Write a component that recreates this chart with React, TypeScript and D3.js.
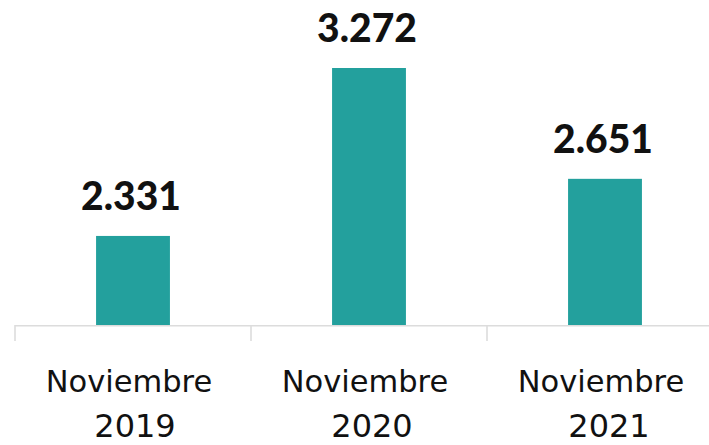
import React from "react";
import * as d3 from "d3";

const categories = ["Noviembre 2019", "Noviembre 2020", "Noviembre 2021"];
const months = ["Noviembre", "Noviembre", "Noviembre"];
const years = ["2019", "2020", "2021"];
const values = [2331, 3272, 2651];
const valueLabels = ["2.331", "3.272", "2.651"];

const W = 709;
const H = 445;

export default function App() {
  const x = d3.scaleBand<string>().domain(categories).range([15, 723]).padding(0);
  const y = d3.scaleLinear().domain([1832, 3272]).range([325, 68]);
  const bw = x.bandwidth() * 0.313;
  const baseY = 325;

  return (
    <svg
      width={W}
      height={H}
      style={{ position: "absolute", left: 0, top: 0, display: "block", background: "#fff" }}
    >
      <line x1={15} x2={W} y1={baseY + 0.8} y2={baseY + 0.8} stroke="#dcdcdc" strokeWidth={1.6} />
      {categories.map((c) => (
        <line
          key={"t" + c}
          x1={x(c)!}
          x2={x(c)!}
          y1={baseY}
          y2={baseY + 16}
          stroke="#dcdcdc"
          strokeWidth={1.6}
        />
      ))}
      {categories.map((c, i) => {
        const cx = x(c)! + x.bandwidth() / 2;
        const top = y(values[i]);
        return (
          <g key={c}>
            <rect x={cx - bw / 2} y={top} width={bw} height={baseY - top} fill="#23a09d" />
            <text
              x={cx - 2}
              y={top - 26}
              textAnchor="middle"
              fontFamily="Lato"
              fontWeight={900}
              fontSize={39}
              fill="#111"
            >
              {valueLabels[i]}
            </text>
            <text
              x={cx - 4}
              y={392}
              textAnchor="middle"
              fontFamily="DejaVu Sans"
              fontSize={30.5}
              fill="#111"
            >
              {months[i]}
            </text>
            <text
              x={cx + 2 + i * 1}
              y={437}
              textAnchor="middle"
              fontFamily="DejaVu Sans"
              fontSize={32}
              fill="#111"
            >
              {years[i]}
            </text>
          </g>
        );
      })}
    </svg>
  );
}
